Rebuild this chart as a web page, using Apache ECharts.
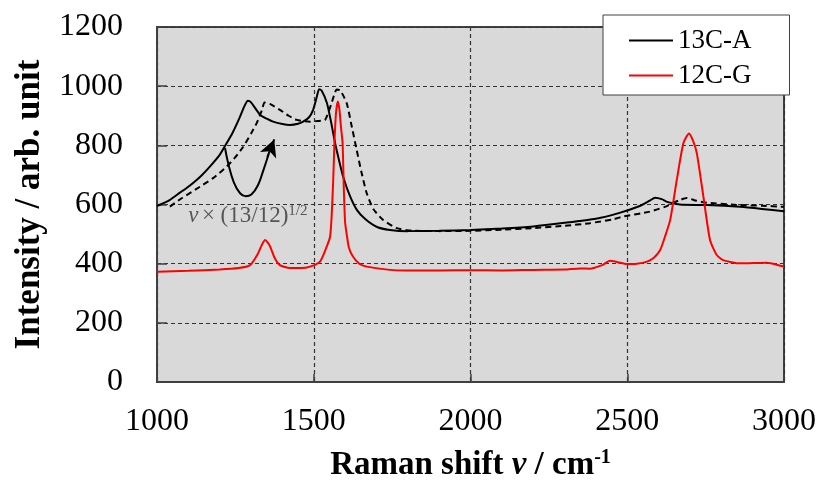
<!DOCTYPE html>
<html>
<head>
<meta charset="utf-8">
<script src="https://cdn.jsdelivr.net/npm/echarts@6/dist/echarts.min.js"></script>
<style>html,body{margin:0;padding:0;background:#fff;}#c{width:821px;height:481px;}</style>
</head>
<body>
<div id="c"></div>
<script>
// 13C-A (solid black)
const aX = [1000,1040,1073,1100,1137,1170,1200,1217,1240,1260,1280,1290,1300,1329,1350,1370,1400,1424,1450,1466,1485,1498,1510,1517,1525,1542,1555,1568,1581,1594,1615,1638,1665,1702,1743,1800,1900,2000,2100,2200,2300,2400,2470,2540,2570,2589,2610,2627,2668,2754,2860,2930,3000];
const aY = [595,615,640,660,693,730,768,798,840,885,935,951,945,903,890,880,872,869,873,880,895,920,965,990,985,943,880,808,748,693,630,581,550,524,514,510,511,514,519,526,538,552,570,595,612,623,618,609,600,598,592,585,577];
// 13C-A scaled by (13/12)^1/2 (dashed black)
const sX = [1041,1080,1137,1180,1222,1250,1275,1300,1318,1335,1343,1360,1392,1420,1446,1488,1510,1536,1557,1565,1573,1585,1605,1620,1637,1652,1669,1690,1721,1765,1810,1900,2000,2100,2200,2300,2381,2455,2486,2572,2620,2646,2670,2690,2720,2754,2860,2930,3000];
const sY = [593,622,660,690,728,760,795,840,875,920,945,940,920,900,886,880,882,886,943,970,989,985,943,870,784,710,638,585,548,520,512,510,511,515,520,528,537,550,559,576,592,605,616,622,613,606,598,596,592];
// 12C-G (red)
const gX = [1000,1100,1200,1260,1297,1320,1335,1345,1360,1375,1392,1424,1460,1488,1520,1541,1552,1557,1562,1566,1571,1577,1582,1587,1592,1596,1600,1605,1612,1625,1645,1669,1743,1800,1900,2000,2100,2200,2300,2350,2380,2420,2445,2470,2499,2530,2563,2585,2605,2620,2637,2658,2679,2697,2710,2722,2743,2764,2785,2806,2860,2945,2993,3000];
const gY = [373,376,380,385,395,430,465,480,460,420,395,385,385,390,407,457,491,559,680,808,910,948,920,860,808,650,540,500,455,424,400,390,379,377,377,378,377,379,380,384,383,395,410,405,399,400,407,420,446,490,548,683,807,840,815,773,626,480,430,412,401,403,392,390];
// annotation arrow path (data coords)
const arrowX = [1217,1228,1245,1265,1283,1302,1322,1340,1356];
const arrowY = [791,735,675,638,628,635,665,718,770];
const arrowHead = [[1352,760],[1374,820]];
const noteXY = [1290,560];

const xTicks = [1000,1500,2000,2500,3000];
const yTicks = [0,200,400,600,800,1000,1200];

const pair = (xs, ys) => xs.map((x,i) => [x, ys[i]]);
const serif = 'Liberation Serif';
const plain = v => String(v);

const chart = echarts.init(document.getElementById('c'), null, {renderer:'canvas'});
chart.setOption({
  animation: false,
  grid: {left:157, top:27, right:37, bottom:99, containLabel:false, outerBoundsMode:'none',
    show:true, backgroundColor:'#d9d9d9', borderColor:'#404040', borderWidth:2},
  legend: {
    data:['13C-A','12C-G'], orient:'vertical', left:603, top:15,
    backgroundColor:'#fff', borderColor:'#404040', borderWidth:1,
    padding:[12,38,6,26], itemWidth:44, itemHeight:2, itemGap:8, icon:'rect',
    textStyle:{fontFamily:serif, fontSize:27, color:'#000'}
  },
  xAxis: {
    type:'value', min:xTicks[0], max:xTicks[xTicks.length-1], interval:500,
    axisLine:{show:true, lineStyle:{color:'#404040', width:2}},
    axisTick:{show:true, inside:true, length:8, lineStyle:{color:'#404040', width:1.5}},
    axisLabel:{fontFamily:serif, fontSize:32, color:'#000', margin:24, formatter:plain},
    splitLine:{show:true, lineStyle:{color:'#333', width:1.2, type:[4,3]}},
    name:'{b|Raman shift }{i|ν}{b| / cm}{s|-1}', nameLocation:'middle', nameGap:66,
    nameTextStyle:{rich:{
      b:{fontFamily:serif, fontWeight:'bold', fontSize:33, color:'#000'},
      i:{fontFamily:serif, fontWeight:'bold', fontStyle:'italic', fontSize:33, color:'#000'},
      s:{fontFamily:serif, fontWeight:'bold', fontSize:20, color:'#000', verticalAlign:'top', padding:[0,0,14,0]}
    }}
  },
  yAxis: {
    type:'value', min:yTicks[0], max:yTicks[yTicks.length-1], interval:200,
    axisLine:{show:true, lineStyle:{color:'#404040', width:2}},
    axisTick:{show:true, inside:true, length:10, lineStyle:{color:'#404040', width:1.5}},
    axisLabel:{fontFamily:serif, fontSize:32, color:'#000', margin:34, formatter:plain},
    splitLine:{show:true, lineStyle:{color:'#333', width:1.2, type:[4,3]}},
    name:'Intensity / arb. unit', nameLocation:'middle', nameGap:110,
    nameTextStyle:{fontFamily:serif, fontWeight:'bold', fontSize:35, color:'#000'}
  },
  series: [
    {name:'13C-A', type:'line', data:pair(aX,aY), symbol:'none', smooth:0.2, color:'#000', lineStyle:{color:'#000', width:2}, z:3},
    {name:'13C-A scaled', type:'line', data:pair(sX,sY), symbol:'none', smooth:0.2, color:'#000', lineStyle:{color:'#000', width:2, type:[6,4]}, z:3},
    {name:'12C-G', type:'line', data:pair(gX,gY), symbol:'none', smooth:0.2, color:'#ff0000', lineStyle:{color:'#ff0000', width:2}, z:4},
    {name:'arrow', type:'line', data:pair(arrowX,arrowY), symbol:'none', smooth:0.4, silent:true,
      lineStyle:{color:'#000', width:2}, z:5,
      markLine:{silent:true, symbol:['none','arrow'], symbolSize:[13,17], label:{show:false},
        lineStyle:{color:'#000', width:2, type:'solid'},
        data:[[{coord:arrowHead[0]},{coord:arrowHead[1]}]]}
    },
    {name:'note', type:'scatter', data:[noteXY], symbolSize:0, silent:true, z:6,
      label:{show:true, position:'inside', formatter:'{i|ν} {n|× (13/12)}{s|1/2}',
        rich:{
          i:{fontFamily:serif, fontStyle:'italic', fontSize:23, color:'#333'},
          n:{fontFamily:serif, fontSize:23, color:'#333'},
          s:{fontFamily:serif, fontSize:15, color:'#333', verticalAlign:'top', padding:[0,0,11,0]}
        }}
    }
  ]
});
</script>
</body>
</html>
